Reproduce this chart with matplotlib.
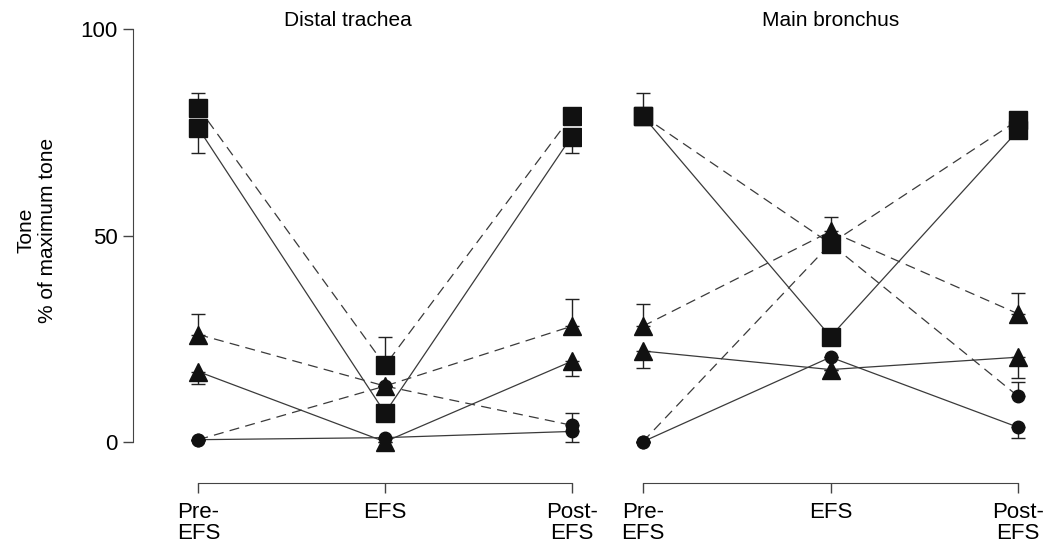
import matplotlib
matplotlib.use('Agg')
import matplotlib.pyplot as plt

plt.rcParams['font.family'] = ['Liberation Sans', 'DejaVu Sans']

# x categories
phases = ['Pre-\nEFS', 'EFS', 'Post-\nEFS']
xpos = [0, 1, 2]

panel_titles = ['Distal trachea', 'Main bronchus']

# values per series (Pre, EFS, Post), with one-sided errors (lower, upper)
trachea_sq_solid = [76, 7, 74]
trachea_sq_solid_lo = [6, 0, 4]
trachea_sq_solid_hi = [0, 0, 0]
trachea_sq_dash = [81, 18.5, 79]
trachea_sq_dash_lo = [0, 0, 0]
trachea_sq_dash_hi = [3.5, 7, 0]
trachea_tri_dash = [26, 13.5, 28]
trachea_tri_dash_lo = [0, 0, 0]
trachea_tri_dash_hi = [5, 0, 6.5]
trachea_tri_solid = [17, 0, 19.5]
trachea_tri_solid_lo = [3, 0, 3.5]
trachea_tri_solid_hi = [0, 0, 0]
trachea_ci_solid = [0.5, 1, 2.5]
trachea_ci_solid_lo = [0, 0, 2.5]
trachea_ci_solid_hi = [0, 0, 0]
trachea_ci_dash = [0.5, 13.5, 4]
trachea_ci_dash_lo = [0, 0, 0]
trachea_ci_dash_hi = [0, 0, 3]

bronchus_sq_solid = [79, 25.5, 75.5]
bronchus_sq_solid_lo = [0, 0, 0]
bronchus_sq_solid_hi = [5.5, 0, 0]
bronchus_sq_dash = [79, 48, 78]
bronchus_sq_dash_lo = [0, 0, 0]
bronchus_sq_dash_hi = [0, 0, 0]
bronchus_tri_dash = [28, 51, 31]
bronchus_tri_dash_lo = [0, 0, 0]
bronchus_tri_dash_hi = [5.5, 3.5, 5]
bronchus_tri_solid = [22, 17.5, 20.5]
bronchus_tri_solid_lo = [4, 0, 5]
bronchus_tri_solid_hi = [0, 0, 0]
bronchus_ci_solid = [0, 20.5, 3.5]
bronchus_ci_solid_lo = [0, 0, 2.5]
bronchus_ci_solid_hi = [0, 0, 0]
bronchus_ci_dash = [0, 48, 11]
bronchus_ci_dash_lo = [0, 0, 0]
bronchus_ci_dash_hi = [0, 0, 3.5]

trachea = [
    (trachea_sq_solid, trachea_sq_solid_lo, trachea_sq_solid_hi, 's', '-'),
    (trachea_sq_dash, trachea_sq_dash_lo, trachea_sq_dash_hi, 's', '--'),
    (trachea_tri_dash, trachea_tri_dash_lo, trachea_tri_dash_hi, '^', '--'),
    (trachea_tri_solid, trachea_tri_solid_lo, trachea_tri_solid_hi, '^', '-'),
    (trachea_ci_solid, trachea_ci_solid_lo, trachea_ci_solid_hi, 'o', '-'),
    (trachea_ci_dash, trachea_ci_dash_lo, trachea_ci_dash_hi, 'o', '--'),
]
bronchus = [
    (bronchus_sq_solid, bronchus_sq_solid_lo, bronchus_sq_solid_hi, 's', '-'),
    (bronchus_sq_dash, bronchus_sq_dash_lo, bronchus_sq_dash_hi, 's', '--'),
    (bronchus_tri_dash, bronchus_tri_dash_lo, bronchus_tri_dash_hi, '^', '--'),
    (bronchus_tri_solid, bronchus_tri_solid_lo, bronchus_tri_solid_hi, '^', '-'),
    (bronchus_ci_solid, bronchus_ci_solid_lo, bronchus_ci_solid_hi, 'o', '-'),
    (bronchus_ci_dash, bronchus_ci_dash_lo, bronchus_ci_dash_hi, 'o', '--'),
]

msize = {'s': 12.5, '^': 13, 'o': 9}

fig = plt.figure(figsize=(10.48, 5.48), dpi=100)
ax1 = fig.add_axes([133 / 1048, 65 / 548, 448 / 1048, 462 / 548])
ax2 = fig.add_axes([624 / 1048, 65 / 548, 413 / 1048, 462 / 548])
ax1.set_xlim(-0.35, 2.05)
ax2.set_xlim(-0.1, 2.1)

for ax, series, title, tx in zip([ax1, ax2], [trachea, bronchus], panel_titles, [0.8, 1.0]):
    ax.set_ylim(-10, 102)
    ax.patch.set_alpha(0)
    # lines first, then error bars and markers on top
    for vals, lo, hi, m, ls in series:
        if ls == '--':
            ax.plot(xpos, vals, color='#3a3a3a', lw=0.9, dashes=(8, 5), zorder=2)
        else:
            ax.plot(xpos, vals, color='#3a3a3a', lw=0.9, zorder=2)
    for vals, lo, hi, m, ls in series:
        ax.errorbar(xpos, vals, yerr=[lo, hi], fmt='none', ecolor='#222222',
                    elinewidth=1.0, capsize=5, capthick=1.0, zorder=3)
        ax.plot(xpos, vals, linestyle='none', marker=m, markersize=msize[m],
                color='#111111', zorder=4)
    for s in ['top', 'right']:
        ax.spines[s].set_visible(False)
    ax.spines['bottom'].set_bounds(0, 2)
    ax.spines['bottom'].set_color('#444444')
    ax.set_xticks(xpos)
    ax.set_xticklabels(phases, fontsize=16, linespacing=0.95)
    ax.tick_params(axis='x', direction='out', length=7, width=1, color='#444444', pad=7)
    ax.text(tx, 102, title, ha='center', va='center', fontsize=15, clip_on=False)

ax1.spines['left'].set_bounds(0, 100)
ax1.spines['left'].set_color('#444444')
ax1.set_yticks([0, 50, 100])
ax1.set_yticklabels(['0', '50', '100'], fontsize=16)
ax1.tick_params(axis='y', direction='out', length=7, width=1, color='#444444', pad=4)

ax2.spines['left'].set_visible(False)
ax2.set_yticks([])

fig.text(0.035, 0.58, 'Tone\n% of maximum tone', rotation=90, ha='center', va='center',
         multialignment='center', fontsize=15)

fig.savefig('out.png', dpi=100)
